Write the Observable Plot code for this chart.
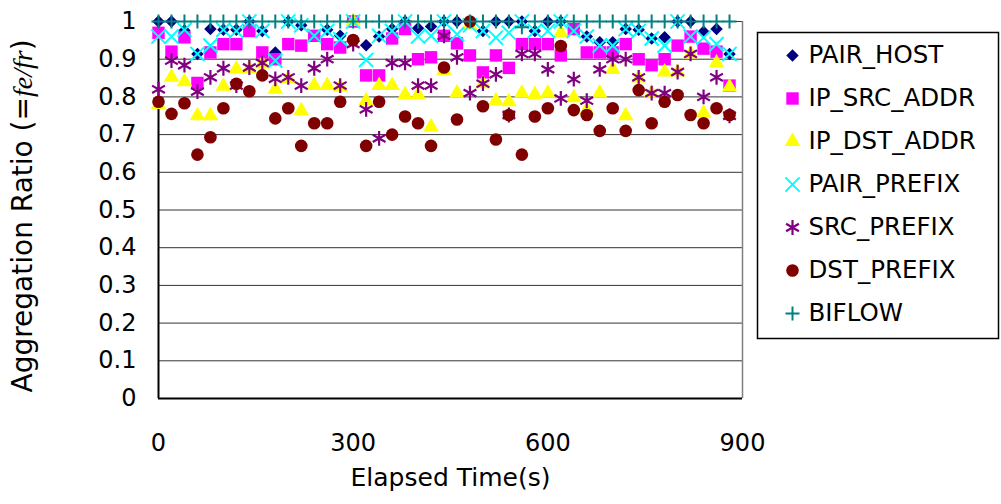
<!DOCTYPE html>
<html>
<head>
<meta charset="utf-8">
<script src="https://cdn.jsdelivr.net/npm/d3@7"></script>
<script src="https://cdn.jsdelivr.net/npm/@observablehq/plot@0.6"></script>
<style>
  html, body { margin: 0; padding: 0; background: #fff; }
  #wrap { position: relative; width: 1001px; height: 504px; overflow: hidden; }
  #legend { position: absolute; left: 757px; top: 32px; }
</style>
</head>
<body>
<div id="wrap"><div id="chart"></div><div id="legend"></div></div>
<script>
// ---- data (elapsed time in seconds, aggregation ratio) ----
const times = [0,20,40,60,80,100,120,140,160,180,200,220,240,260,280,300,320,340,360,380,400,420,440,460,480,500,520,540,560,580,600,620,640,660,680,700,720,740,760,780,800,820,840,860,880];

const pairHost  = [1.0,1.0,0.976,0.914,0.98,0.978,0.978,1.0,0.975,0.918,1.0,0.99,0.962,0.978,0.962,1.0,0.937,0.96,0.98,1.0,0.982,0.987,1.0,1.0,1.0,0.975,1.0,1.0,1.0,0.975,1.0,1.0,0.98,0.96,0.945,0.945,0.98,0.978,0.955,0.958,1.0,1.0,0.973,0.98,0.914];
const ipSrcAddr = [0.97,0.92,0.958,0.837,0.918,0.94,0.94,0.975,0.918,0.9,0.94,0.936,0.962,0.94,0.931,1.0,0.857,0.857,0.955,0.98,0.9,0.905,0.962,0.942,0.91,0.865,0.91,0.877,0.94,0.94,0.94,0.91,0.98,0.918,0.918,0.918,0.94,0.9,0.884,0.9,0.936,0.96,0.928,0.92,0.83];
const ipDstAddr = [0.78,0.852,0.84,0.75,0.75,0.828,0.874,0.875,0.887,0.82,0.848,0.763,0.83,0.83,0.826,1.0,0.79,0.83,0.83,0.806,0.806,0.72,0.87,0.81,0.99,0.835,0.79,0.787,0.81,0.806,0.81,0.97,0.798,0.765,0.81,0.873,0.75,0.85,0.81,0.866,0.866,0.914,0.757,0.89,0.826];
const pairPrefix= [0.96,0.96,0.978,0.914,0.936,0.978,0.975,1.0,0.975,0.896,1.0,0.99,0.962,0.975,0.953,1.0,0.898,0.962,0.975,1.0,0.96,0.962,1.0,0.966,0.99,0.975,0.957,0.97,1.0,0.975,0.975,1.0,0.975,0.96,0.936,0.936,0.98,0.975,0.955,0.936,1.0,0.96,0.957,0.94,0.914];
const srcPrefix = [0.82,0.896,0.884,0.814,0.852,0.876,0.83,0.878,0.89,0.848,0.852,0.83,0.876,0.9,0.83,0.94,0.767,0.69,0.89,0.89,0.83,0.83,0.962,0.905,0.81,0.835,0.86,0.752,0.914,0.914,0.873,0.796,0.847,0.79,0.873,0.9,0.9,0.852,0.81,0.81,0.866,0.914,0.8,0.852,0.75];
const dstPrefix = [0.787,0.755,0.783,0.647,0.693,0.77,0.835,0.815,0.857,0.743,0.77,0.67,0.73,0.73,0.787,0.951,0.67,0.787,0.7,0.748,0.73,0.67,0.878,0.74,1.0,0.775,0.687,0.752,0.647,0.748,0.77,0.935,0.765,0.752,0.71,0.77,0.71,0.818,0.73,0.787,0.805,0.752,0.73,0.77,0.752];
const biflow    = [1,1,1,1,1,1,1,1,1,1,1,1,1,1,1,1,1,1,1,1,1,1,1,1,1,1,1,1,0.985,1,1,1,1,1,1,1,1,1,1,1,1,1,1,1,1];

const seriesNames = ["PAIR_HOST","IP_SRC_ADDR","IP_DST_ADDR","PAIR_PREFIX","SRC_PREFIX","DST_PREFIX","BIFLOW"];
const xTicks = [0, 300, 600, 900];
const yTicks = [0, 0.1, 0.2, 0.3, 0.4, 0.5, 0.6, 0.7, 0.8, 0.9, 1];
const xLabel = "Elapsed Time(s)";
const yLabel = "Aggregation Ratio (=fe/fr)";

// ---- styling per series ----
const seriesValues = [pairHost, ipSrcAddr, ipDstAddr, pairPrefix, srcPrefix, dstPrefix, biflow];
const styles = [
  {symbol: "diamond2", color: "#000080", filled: true,  r: 5.6},
  {symbol: "square",   color: "#ff00ff", filled: true,  r: 7},
  {symbol: "triangle", color: "#ffff00", filled: true,  r: 5.8},
  {symbol: "times",    color: "#00ffff", filled: false, r: 6.5, sw: 2},
  {symbol: "asterisk", color: "#800080", filled: false, r: 7,   sw: 2.2},
  {symbol: "circle",   color: "#800000", filled: true,  r: 6.3},
  {symbol: "plus",     color: "#008080", filled: false, r: 4.6, sw: 2}
];

const rows = seriesNames.map((name, k) =>
  times.map((t, i) => ({series: name, time: t, value: seriesValues[k][i]})));

function dotOpts(st, extra) {
  return Object.assign({
    symbol: st.symbol, r: st.r,
    fill: st.filled ? st.color : "none",
    stroke: st.filled ? "none" : st.color,
    strokeWidth: st.filled ? 0 : st.sw
  }, extra);
}

const FONT = "DejaVu Sans";
const fmt = d => String(+d.toFixed(1));

const chart = Plot.plot({
  width: 1001,
  height: 504,
  marginLeft: 158,
  marginRight: 259,
  marginTop: 21,
  marginBottom: 106,
  style: {fontFamily: FONT, fontSize: "24px", color: "#000", background: "#fff", overflow: "visible"},
  x: {domain: [0, 900], label: null},
  y: {domain: [0, 1], label: null},
  marks: [
    Plot.gridY(yTicks.filter(d => d > 0), {stroke: "#333", strokeOpacity: 1, strokeWidth: 1}),
    Plot.ruleX([900], {stroke: "#808080", strokeWidth: 1.5}),
    Plot.ruleX([0], {stroke: "#000", strokeWidth: 2}),
    Plot.ruleY([0], {stroke: "#000", strokeWidth: 2}),
    Plot.axisX({ticks: xTicks, tickSize: 0, tickPadding: 35, tickFormat: d => String(d), label: null, fontSize: 24}),
    Plot.axisY({ticks: yTicks, tickSize: 0, tickPadding: 22, tickFormat: fmt, label: null, fontSize: 24}),
    ...rows.map((data, k) => Plot.dot(data, dotOpts(styles[k], {x: "time", y: "value"}))),
    Plot.text([xLabel], {text: d => d, frameAnchor: "bottom", dy: 87, fontSize: 25, fill: "#000"}),
    Plot.text([yLabel], {text: d => d, frameAnchor: "bottom-left", dx: -127, dy: -6, rotate: -90, textAnchor: "start", fontSize: 28, fill: "#000"})
  ]
});
document.getElementById("chart").append(chart);

// italicise fe / fr in the y-axis title
d3.select(chart).selectAll("text").filter(function() { return this.textContent === yLabel; })
  .each(function() {
    const t = d3.select(this);
    t.text(null);
    t.append("tspan").text("Aggregation Ratio (=");
    t.append("tspan").attr("font-style", "italic").attr("font-family", "Liberation Serif").text("fe/fr");
    t.append("tspan").text(")");
  });

// ---- legend ----
const legend = Plot.plot({
  width: 241,
  height: 306,
  margin: 0,
  style: {fontFamily: FONT, fontSize: "24px", color: "#000", background: "#fff", overflow: "visible"},
  x: {domain: [0, 1], axis: null},
  y: {type: "point", domain: seriesNames, range: [22, 281], padding: 0, axis: null},
  marks: [
    Plot.frame({stroke: "#000", strokeWidth: 1.5}),
    ...seriesNames.map((name, k) => Plot.dot([name], dotOpts(styles[k], {y: d => d, frameAnchor: "left", dx: 35}))),
    Plot.text(seriesNames, {y: d => d, text: d => d, frameAnchor: "left", dx: 51, textAnchor: "start", fontSize: 24.5, fill: "#000"})
  ]
});
document.getElementById("legend").append(legend);
</script>
</body>
</html>
